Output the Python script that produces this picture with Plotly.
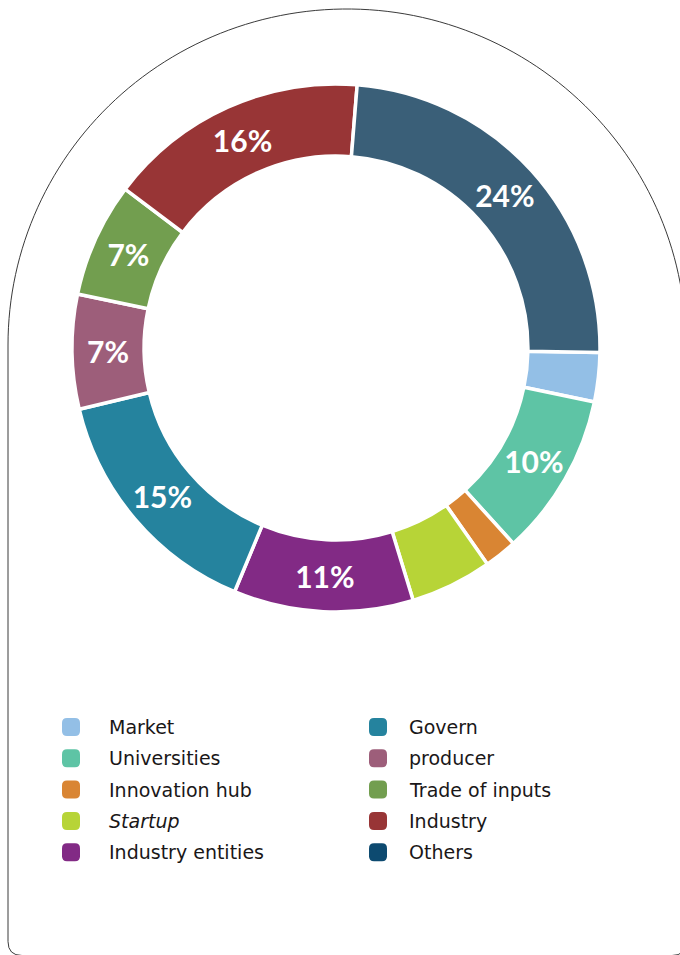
import numpy as np
import plotly.graph_objects as go

# ---- data ----
labels = ["Market", "Universities", "Innovation hub", "Startup", "Industry entities",
          "Govern", "producer", "Trade of inputs", "Industry", "Others"]
values = [3, 10, 2, 5, 11, 15, 7, 7, 16, 24]
slice_colors = ["#93bfe6", "#5ec4a5", "#d98533", "#b7d437", "#822a85",
                "#25839e", "#9d5e7a", "#729e4f", "#983536", "#3a5f78"]
legend_colors = ["#93bfe6", "#5ec4a5", "#d98533", "#b7d437", "#822a85",
                 "#25839e", "#9d5e7a", "#729e4f", "#983536", "#0d4a70"]
italic_labels = {"Startup"}

W, H = 680, 955


def px(x):
    return x / W


def py(y):
    return 1 - y / H


text_labels = [f"{v}%" if v >= 7 else "" for v in values]

# pie geometry (pixels)
cx, cy, R = 336, 348, 264

fig = go.Figure()
fig.add_trace(go.Pie(
    labels=labels,
    values=values,
    sort=False,
    direction="clockwise",
    rotation=91,
    hole=0.727,
    marker=dict(colors=slice_colors, line=dict(color="white", width=3.5)),
    text=text_labels,
    texttemplate="%{text}",
    textposition="inside",
    insidetextorientation="horizontal",
    textfont=dict(family="Lato", size=30, color="white", weight="bold"),
    showlegend=False,
    hoverinfo="label+percent",
    domain=dict(x=[px(cx - R), px(cx + R)], y=[py(cy + R), py(cy - R)]),
))

shapes = []

# ---- outer frame (arch top, straight sides, rounded bottom corners) ----
ecx, ecy, erx, ery = 347, 345, 339, 336
ang = np.linspace(np.pi, 0, 120)
pts = [(ecx + erx * np.cos(a), ecy - ery * np.sin(a)) for a in ang]
right_x, left_x, bottom_y, cr = ecx + erx, ecx - erx, 955.5, 14
path = f"M {px(pts[0][0])},{py(pts[0][1])} "
path += " ".join(f"L {px(x)},{py(y)}" for x, y in pts[1:])
path += f" L {px(right_x)},{py(bottom_y - cr)}"
path += f" Q {px(right_x)},{py(bottom_y)} {px(right_x - cr)},{py(bottom_y)}"
path += f" L {px(left_x + cr)},{py(bottom_y)}"
path += f" Q {px(left_x)},{py(bottom_y)} {px(left_x)},{py(bottom_y - cr)}"
path += " Z"
shapes.append(dict(type="path", xref="paper", yref="paper", path=path,
                   line=dict(color="#3a3a3a", width=1), fillcolor="rgba(0,0,0,0)",
                   layer="below"))


def rounded_square(x0, y0, s, r):
    x1, y1 = x0 + s, y0 + s
    p = f"M {px(x0 + r)},{py(y0)} L {px(x1 - r)},{py(y0)} Q {px(x1)},{py(y0)} {px(x1)},{py(y0 + r)}"
    p += f" L {px(x1)},{py(y1 - r)} Q {px(x1)},{py(y1)} {px(x1 - r)},{py(y1)}"
    p += f" L {px(x0 + r)},{py(y1)} Q {px(x0)},{py(y1)} {px(x0)},{py(y1 - r)}"
    p += f" L {px(x0)},{py(y0 + r)} Q {px(x0)},{py(y0)} {px(x0 + r)},{py(y0)} Z"
    return p


# ---- manual legend (two columns) ----
annotations = []
col_sq_x = [62, 369]
col_tx_x = [107, 407]
row_y0, row_dy = 727, 31.3
sq = 18
for i, (lab, col) in enumerate(zip(labels, legend_colors)):
    c, r = divmod(i, 5)
    yc = row_y0 + r * row_dy
    shapes.append(dict(type="path", xref="paper", yref="paper",
                       path=rounded_square(col_sq_x[c], yc - sq / 2, sq, 5),
                       fillcolor=col, line=dict(width=0)))
    annotations.append(dict(
        x=px(col_tx_x[c]), y=py(yc), xref="paper", yref="paper",
        xanchor="left", yanchor="middle", showarrow=False,
        text=f"<i>{lab}</i>" if lab in italic_labels else lab,
        font=dict(family="DejaVu Sans", size=19, color="#1a1718"),
    ))

fig.update_layout(
    width=W, height=H,
    margin=dict(l=0, r=0, t=0, b=0),
    paper_bgcolor="white",
    plot_bgcolor="white",
    shapes=shapes,
    annotations=annotations,
    showlegend=False,
)

fig.write_html("out.html")
